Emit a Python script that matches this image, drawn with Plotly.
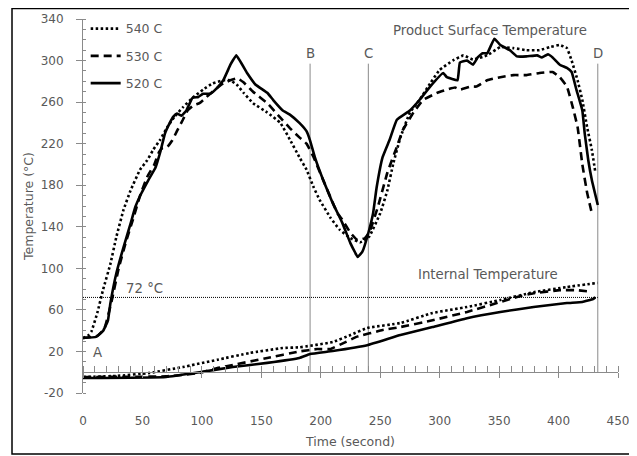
import plotly.graph_objects as go

# ---------------- data ----------------
# Product surface temperature
t_540_surf = [0, 4, 7, 12, 17, 23, 28, 34, 40, 48, 54, 59, 65, 71, 77, 84, 92, 101, 109, 118, 124, 130, 135,
              143, 155, 166, 174, 182, 188, 194, 199, 208, 216, 225, 233, 237, 241, 250, 256, 261, 267, 275,
              283, 292, 300, 311, 320, 328, 340, 351, 362, 373, 384, 393, 401, 407, 411, 416, 420, 424, 428, 431]
T_540_surf = [33, 35, 39, 57, 80, 104, 130, 156, 175, 195, 204, 214, 224, 236, 246, 255, 264, 272, 278, 281, 281, 276, 269,
              259, 250, 240, 224, 207, 195, 178, 166, 149, 137, 129, 125, 127, 131, 153, 175, 201, 226, 250,
              262, 278, 291, 300, 305, 301, 305, 313, 312, 310, 310, 313, 315, 312, 300, 281, 262, 236, 214, 192]

t_530_surf = [0, 12, 18, 24, 30, 36, 42, 48, 54, 60, 64, 67, 71, 75, 79, 84, 88, 93, 98, 104, 111, 118, 124, 130,
              135, 143, 155, 166, 174, 182, 188, 194, 202, 214, 218, 225, 231, 237, 241, 248, 256, 264, 269, 278,
              286, 298, 306, 313, 317, 326, 331, 340, 351, 362, 373, 384, 395, 401, 407, 412, 416, 420, 424, 428]
T_530_surf = [33, 35, 42, 68, 100, 125, 147, 170, 188, 200, 212, 216, 217, 223, 232, 243, 252, 257, 259, 265, 272, 278, 281, 283,
              279, 270, 259, 245, 235, 226, 220, 207, 185, 153, 147, 134, 127, 129, 135, 159, 192, 217, 233, 250,
              262, 269, 272, 274, 272, 275, 275, 281, 284, 286, 286, 288, 289, 284, 275, 255, 236, 200, 173, 153]

t_520_surf = [0, 11, 17, 21, 23, 28, 34, 40, 44, 49, 55, 61, 65, 69, 73, 76, 79, 83, 87, 92, 97, 101, 107, 113,
              118, 124, 126, 129, 138, 145, 155, 160, 168, 174, 182, 188, 191, 195, 202, 210, 218, 225, 229, 231,
              235, 240, 244, 247, 252, 258, 264, 275, 283, 292, 303, 306, 315, 317, 323, 328, 332, 336, 340, 346,
              351, 359, 365, 373, 382, 386, 391, 395, 401, 407, 411, 415, 420, 422, 425, 428, 433]
T_520_surf = [33, 34, 40, 50, 66, 95, 120, 143, 159, 172, 185, 197, 212, 230, 240, 246, 249, 247, 252, 264, 265, 268, 268, 274,
              281, 296, 300, 305, 288, 277, 269, 262, 252, 248, 240, 232, 223, 207, 185, 163, 144, 124, 115, 111,
              116, 134, 153, 178, 207, 224, 243, 252, 262, 275, 288, 284, 281, 298, 300, 296, 303, 307, 307, 321,
              315, 310, 304, 304, 305, 303, 306, 303, 296, 293, 289, 272, 252, 230, 204, 185, 161]

# Internal temperature
t_540_int = [0, 28, 56, 84, 113, 140, 168, 182, 210, 225, 239, 267, 294, 323, 351, 379, 407, 433]
T_540_int = [-4.6, -3.6, -0.7, 5, 12, 18.5, 23.3, 24, 29, 35.8, 42.6, 47.4, 57, 62.8, 69.5, 77, 82, 86]

t_530_int = [0, 70, 98, 113, 126, 155, 182, 197, 208, 219, 230, 252, 267, 294, 323, 351, 365, 379, 401, 415, 424]
T_530_int = [-4.6, -4, -0.7, 4, 7, 13.7, 20, 22.3, 22.3, 28, 34, 40.6, 43.5, 50, 58, 67.6, 72.4, 76, 79, 79, 78]

t_520_int = [0, 70, 98, 126, 155, 182, 191, 210, 239, 267, 294, 323, 351, 379, 407, 420, 429, 431]
T_520_int = [-5.6, -4.6, 0, 5, 9, 13.7, 17.5, 20.4, 26, 35.8, 43.5, 52, 58, 62.8, 66.6, 67.6, 70.5, 72]

series_names = ["540 C", "530 C", "520 C"]

event_times = [191, 240, 433]
event_labels = ["B", "C", "D"]
threshold_temp = 72
threshold_label = "72 °C"

x_ticks = list(range(0, 451, 50))
y_ticks = list(range(-20, 341, 40))
y_tick_text = [str(v) for v in y_ticks]

# ---------------- styles ----------------
FONT = "DejaVu Sans"
TXT = "#595959"
AX = "#8a8a8a"
styles = {
    "540 C": dict(color="black", width=2.6, dash="2.5px,2.5px"),
    "530 C": dict(color="black", width=2.6, dash="8px,5px"),
    "520 C": dict(color="black", width=2.6, dash="solid"),
}

surf = {"540 C": (t_540_surf, T_540_surf), "530 C": (t_530_surf, T_530_surf), "520 C": (t_520_surf, T_520_surf)}
intr = {"540 C": (t_540_int, T_540_int), "530 C": (t_530_int, T_530_int), "520 C": (t_520_int, T_520_int)}

fig = go.Figure()
for name in series_names:
    x, y = surf[name]
    fig.add_trace(go.Scatter(x=x, y=y, mode="lines", name=name, legendgroup=name,
                             line=styles[name], line_shape="spline", line_smoothing=0.3))
for name in series_names:
    x, y = intr[name]
    fig.add_trace(go.Scatter(x=x, y=y, mode="lines", name=name, legendgroup=name, showlegend=False,
                             xaxis="x2", line=styles[name], line_shape="spline", line_smoothing=0.3))

ann_font = dict(family=FONT, size=13.3, color=TXT)

# reference lines B, C, D
for tx, lab in zip(event_times, event_labels):
    fig.add_shape(type="line", xref="x", yref="y", x0=tx, x1=tx, y0=0, y1=297,
                  line=dict(color=AX, width=1), layer="below")
    fig.add_annotation(x=tx, y=307, xref="x", yref="y", text=lab, showarrow=False, font=ann_font)

# 72 C threshold
fig.add_shape(type="line", xref="x", yref="y", x0=0, x1=event_times[-1], y0=threshold_temp, y1=threshold_temp,
              line=dict(color="black", width=1, dash="1px,1px"))
fig.add_annotation(x=52, y=81, xref="x", yref="y", text=threshold_label, showarrow=False, font=ann_font)
fig.add_annotation(x=12.6, y=19, xref="x", yref="y", text="A", showarrow=False, font=ann_font)
fig.add_annotation(x=342, y=329, xref="x", yref="y", text="Product Surface Temperature", showarrow=False,
                   font=ann_font)
fig.add_annotation(x=341, y=94, xref="x", yref="y", text="Internal Temperature", showarrow=False,
                   font=ann_font)

# outer frame
fig.add_shape(type="rect", xref="paper", yref="paper", x0=-0.1327, x1=1.0299, y0=-0.163, y1=1.028,
              line=dict(color="black", width=1.5))

zero_pos = 20 / 360

fig.update_layout(
    width=629, height=448,
    margin=dict(l=75, r=19, t=11, b=63, autoexpand=False),
    paper_bgcolor="white", plot_bgcolor="white",
    font=dict(family=FONT, size=12, color=TXT),
    showlegend=True,
    legend=dict(x=0.005, y=1.0134, xanchor="left", yanchor="top", bgcolor="rgba(0,0,0,0)",
                font=dict(family=FONT, size=12.5, color=TXT), tracegroupgap=8,
                traceorder="grouped", itemwidth=30),
    xaxis=dict(range=[0, 450], anchor="free", position=zero_pos, showgrid=False, zeroline=False,
               showline=True, linecolor=AX, linewidth=1,
               tickmode="array", tickvals=x_ticks, ticks="outside", ticklen=5, tickcolor=AX,
               minor=dict(dtick=10, ticks="inside", ticklen=6, tickcolor=AX),
               tickfont=dict(family=FONT, size=12, color=TXT), ticklabelstandoff=32,
               title=dict(text="Time (second)", font=dict(family=FONT, size=12.5, color=TXT), standoff=10),
               automargin=False),
    xaxis2=dict(range=[0, 450], matches="x", overlaying="x", anchor="free", position=zero_pos,
                showgrid=False, zeroline=False, showline=False, showticklabels=False,
                tickmode="array", tickvals=x_ticks, ticks="inside", ticklen=6, tickcolor=AX),
    yaxis=dict(range=[-20, 340], showgrid=False, zeroline=False, showline=True, linecolor=AX, linewidth=1,
               tickmode="array", tickvals=y_ticks, ticktext=y_tick_text,
               ticks="outside", ticklen=6, tickcolor=AX,
               minor=dict(dtick=10, tick0=-20, ticks="inside", ticklen=3, tickcolor=AX),
               tickfont=dict(family=FONT, size=12, color=TXT), ticklabelstandoff=10,
               title=dict(text="Temperature (°C)", font=dict(family=FONT, size=12.5, color=TXT), standoff=4),
               automargin=False),
)

fig.write_html("out.html")
